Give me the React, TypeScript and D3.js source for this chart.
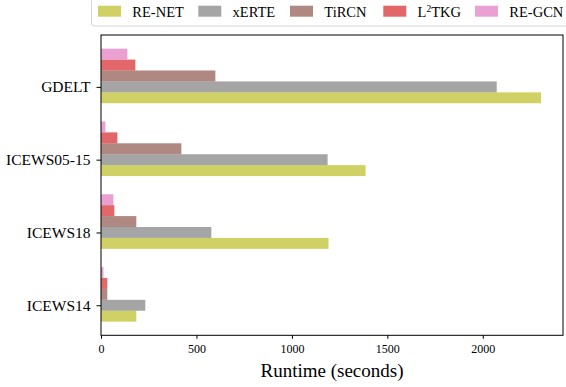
import React, { useEffect, useRef } from 'react';
import * as d3 from 'd3';

// datasets, bottom to top
const datasets = ['ICEWS14', 'ICEWS18', 'ICEWS05-15', 'GDELT'];
const models = ['RE-NET', 'xERTE', 'TiRCN', 'L2TKG', 'RE-GCN'];
const colors = ['#bcbd22', '#7f7f7f', '#8c564b', '#d62728', '#e377c2'];

// runtime in seconds, same order as datasets
const reNet = [185, 1192, 1386, 2305];
const xErte = [232, 578, 1187, 2073];
const tiRcn = [33, 185, 421, 599];
const l2Tkg = [33, 70, 86, 180];
const reGcn = [13, 65, 23, 138];
const xTicks = [0, 500, 1000, 1500, 2000];

const series = [reNet, xErte, tiRcn, l2Tkg, reGcn];

const App = () => {
  const ref = useRef<SVGSVGElement>(null);

  useEffect(() => {
    const svg = d3.select(ref.current);
    svg.selectAll('*').remove();

    const left = 101, right = 563, top = 35, bottom = 335.3;
    const barW = 0.15;
    const maxVal = d3.max(series, (s) => d3.max(s)) as number;

    const x = d3.scaleLinear().domain([0, maxVal * 1.05]).range([left, right]);
    // matplotlib style 5% margins around the bar extent
    const lo = -1.5 * barW, hi = datasets.length - 1 + 3.5 * barW;
    const pad = (hi - lo) * 0.05;
    const y = d3.scaleLinear().domain([lo - pad, hi + pad]).range([bottom, top]);
    const font = "'Liberation Serif', 'Times New Roman', serif";

    // bars
    series.forEach((vals, k) => {
      svg.append('g')
        .selectAll('rect')
        .data(vals)
        .enter()
        .append('rect')
        .attr('x', x(0))
        .attr('y', (d, i) => y(i + (k - 1) * barW + barW / 2))
        .attr('width', (d) => x(d) - x(0))
        .attr('height', y(0) - y(barW))
        .attr('fill', colors[k])
        .attr('fill-opacity', 0.7);
    });

    // frame
    svg.append('rect')
      .attr('x', left).attr('y', top)
      .attr('width', right - left).attr('height', bottom - top)
      .attr('fill', 'none').attr('stroke', '#000').attr('stroke-width', 1);

    // x axis
    const xAxis = svg.append('g')
      .attr('transform', `translate(0,${bottom})`)
      .call(d3.axisBottom(x).tickValues(xTicks).tickSize(3.5).tickPadding(6).tickFormat(d3.format('d')));
    xAxis.select('.domain').remove();
    xAxis.selectAll('text').attr('font-family', font).attr('font-size', 12).attr('fill', '#000');

    // y axis
    const yAxis = svg.append('g')
      .attr('transform', `translate(${left},0)`)
      .call(d3.axisLeft(y).tickValues(datasets.map((d, i) => i)).tickSize(4.5).tickPadding(6)
        .tickFormat((d) => datasets[d as number]));
    yAxis.select('.domain').remove();
    yAxis.selectAll('text').attr('font-family', font).attr('font-size', 15.5).attr('fill', '#000');

    svg.append('text')
      .attr('x', (left + right) / 2).attr('y', 376.5)
      .attr('text-anchor', 'middle')
      .attr('font-family', font).attr('font-size', 19)
      .text('Runtime (seconds)');

    // legend
    const legend = svg.append('g');
    legend.append('rect')
      .attr('x', 91.5).attr('y', -6)
      .attr('width', 490).attr('height', 32)
      .attr('rx', 3)
      .attr('fill', '#fff').attr('stroke', '#d6d6d6').attr('stroke-width', 1);

    const itemX = [98, 198.3, 290, 383.3, 475];
    models.forEach((m, k) => {
      legend.append('rect')
        .attr('x', itemX[k]).attr('y', 5.7)
        .attr('width', 23).attr('height', 11)
        .attr('fill', colors[k]).attr('fill-opacity', 0.7);
      const t = legend.append('text')
        .attr('x', itemX[k] + 34.3).attr('y', 16.7)
        .attr('font-family', font).attr('font-size', 14.5);
      if (m === 'L2TKG') {
        t.append('tspan').text('L');
        t.append('tspan').attr('dy', -5).attr('font-size', 9.5).text('2');
        t.append('tspan').attr('dy', 5).text('TKG');
      } else {
        t.text(m);
      }
    });
  }, []);

  return (
    <svg ref={ref} width={566} height={387}
      style={{ position: 'absolute', left: 0, top: 0, background: '#fff' }} />
  );
};

export default App;
